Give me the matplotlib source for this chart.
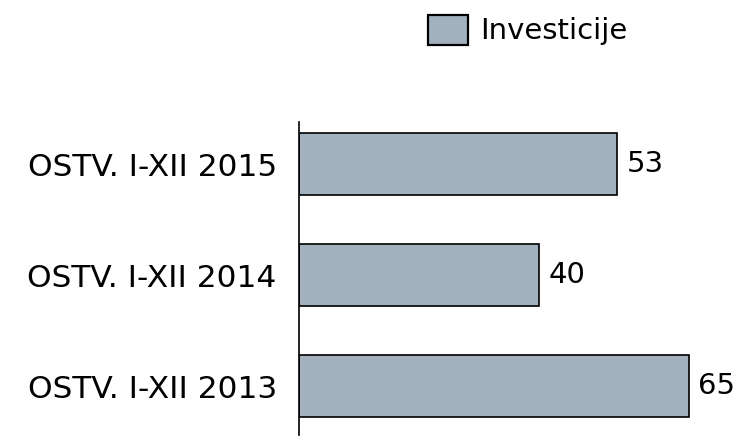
import matplotlib
matplotlib.use("Agg")
import matplotlib.pyplot as plt
from matplotlib.patches import Patch

categories = ["OSTV. I-XII 2013", "OSTV. I-XII 2014", "OSTV. I-XII 2015"]
values = [65, 40, 53]
series_name = "Investicije"

BAR_COLOR = "#A3B1BF"

plt.rcParams["font.family"] = ["DejaVu Sans"]

fig = plt.figure(figsize=(7.35, 4.37), dpi=100)
ax = fig.add_axes([299 / 735, 2 / 437, 436 / 735, 313 / 437])

ypos = list(range(len(categories)))
bars = ax.barh(ypos, values, height=0.56, color=BAR_COLOR,
               edgecolor="black", linewidth=1.2)

for b, v in zip(bars, values):
    ax.text(b.get_width() + 1.6, b.get_y() + b.get_height() / 2, str(v),
            va="center", ha="left", fontsize=21)

ax.set_yticks(ypos)
ax.set_yticklabels(categories, fontsize=22.5)
ax.tick_params(axis="y", length=0, pad=16)
ax.set_xticks([])
ax.set_xlim(0, 72.7)
ax.set_ylim(-0.44, 2.38)

for s in ["top", "right", "bottom"]:
    ax.spines[s].set_visible(False)
ax.spines["left"].set_linewidth(1.2)

handle = Patch(facecolor=BAR_COLOR, edgecolor="black", linewidth=1.6)
fig.legend([handle], [series_name], loc="center left",
           bbox_to_anchor=(413 / 735, 1 - 30 / 437), frameon=False,
           fontsize=21, handlelength=1.4, handleheight=1.2, handletextpad=0.4,
           borderpad=0)

fig.savefig("out.png", dpi=100)
